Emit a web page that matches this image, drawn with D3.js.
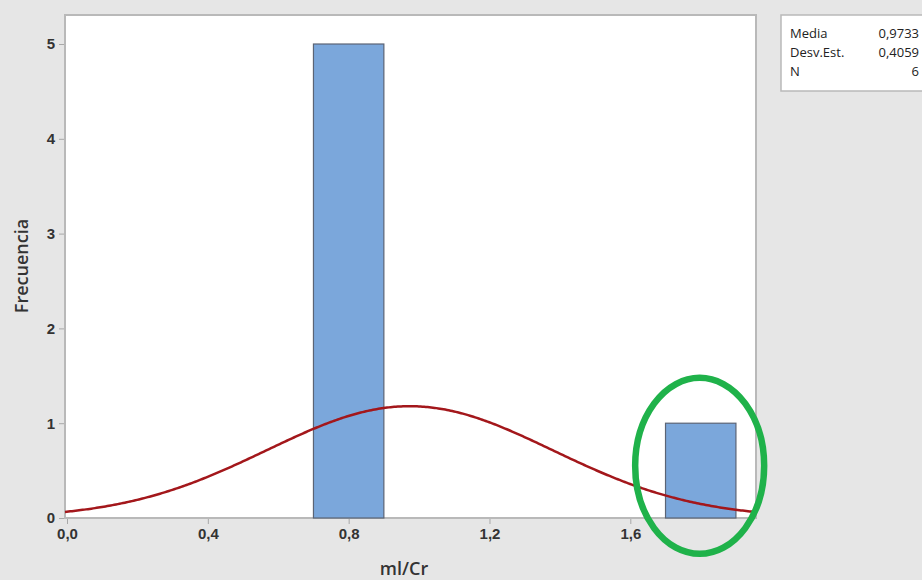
<!DOCTYPE html>
<html>
<head>
<meta charset="utf-8">
<script src="https://cdn.jsdelivr.net/npm/d3@7"></script>
<style>
  body { margin: 0; background: #e6e6e6; }
  svg { display: block; font-family: "Open Sans", "Noto Sans", sans-serif; }
</style>
</head>
<body>
<svg id="chart"></svg>
<script>
// histogram bins (lower edge, upper edge, count)
const binStart = [0.7, 1.7];
const binEnd = [0.9, 1.9];
const binCount = [5, 1];

// summary stats shown in the box
const statLabels = ["Media", "Desv.Est.", "N"];
const statValues = ["0,9733", "0,4059", "6"];
const mean = 0.9733;
const sd = 0.4059;
const n = 6;
const binWidth = 0.2;

// ticks
const xTicks = [0, 0.4, 0.8, 1.2, 1.6];
const yTicks = [0, 1, 2, 3, 4, 5];

// highlight annotation (data coords)
const highlight = { x: 1.797, y: 0.55 };

const width = 922;
const height = 580;
const plot = { left: 65, top: 15, right: 756, bottom: 518 };

const svg = d3.select("#chart")
  .attr("width", width)
  .attr("height", height);

svg.append("rect")
  .attr("width", width).attr("height", height)
  .attr("fill", "#e6e6e6");

const x = d3.scaleLinear()
  .domain([-0.0057, 1.957])
  .range([plot.left, plot.right]);

const y = d3.scaleLinear()
  .domain([0, 5.306])
  .range([plot.bottom, plot.top]);

// plot area
svg.append("rect")
  .attr("x", plot.left)
  .attr("y", plot.top)
  .attr("width", plot.right - plot.left)
  .attr("height", plot.bottom - plot.top)
  .attr("fill", "#fff")
  .attr("stroke", "#b9b9b9")
  .attr("stroke-width", 2);

// bars
svg.append("g")
  .selectAll("rect")
  .data(binCount)
  .join("rect")
  .attr("x", (d, i) => x(binStart[i]))
  .attr("y", d => y(d))
  .attr("width", (d, i) => x(binEnd[i]) - x(binStart[i]))
  .attr("height", d => y(0) - y(d))
  .attr("fill", "#7ba7db")
  .attr("stroke", "#5b6475")
  .attr("stroke-width", 1.2);

// fitted normal curve
const scale = n * binWidth / (sd * Math.sqrt(2 * Math.PI));
const curveX = d3.range(x.domain()[0], x.domain()[1], 0.005).concat([x.domain()[1]]);
svg.append("path")
  .datum(curveX)
  .attr("fill", "none")
  .attr("stroke", "#a3171b")
  .attr("stroke-width", 2.5)
  .attr("d", d3.line()
    .x(d => x(d))
    .y(d => y(scale * Math.exp(-0.5 * Math.pow((d - mean) / sd, 2)))));

// axes
const xAxis = svg.append("g")
  .attr("transform", `translate(0,${plot.bottom + 1})`)
  .call(d3.axisBottom(x).tickValues(xTicks).tickSize(5).tickPadding(4)
    .tickFormat(d => d3.format(".1f")(d).replace(".", ",")));

const yAxis = svg.append("g")
  .attr("transform", `translate(${plot.left - 1},0)`)
  .call(d3.axisLeft(y).tickValues(yTicks).tickSize(5).tickPadding(4)
    .tickFormat(d3.format("d")));

[xAxis, yAxis].forEach(a => {
  a.select(".domain").remove();
  a.selectAll(".tick line").attr("stroke", "#a8a8a8");
  a.selectAll(".tick text")
    .attr("fill", "#333")
    .style("font-size", "15px")
    .style("font-weight", "600");
});

// axis titles
svg.append("text")
  .attr("x", 404)
  .attr("y", 575)
  .attr("text-anchor", "middle")
  .attr("fill", "#333")
  .style("font-size", "18px")
  .style("font-weight", "600")
  .text("ml/Cr");

svg.append("text")
  .attr("transform", "translate(28,266) rotate(-90)")
  .attr("text-anchor", "middle")
  .attr("fill", "#333")
  .style("font-size", "18px")
  .style("font-weight", "600")
  .text("Frecuencia");

// stats box
const box = svg.append("g");
box.append("rect")
  .attr("x", 781).attr("y", 15)
  .attr("width", 160).attr("height", 76)
  .attr("fill", "#fff")
  .attr("stroke", "#b9b9b9")
  .attr("stroke-width", 1.5);

box.selectAll(".lbl")
  .data(statLabels)
  .join("text")
  .attr("class", "lbl")
  .attr("x", 790)
  .attr("y", (d, i) => 38 + i * 19)
  .attr("fill", "#222")
  .style("font-size", "13px")
  .text(d => d);

box.selectAll(".val")
  .data(statValues)
  .join("text")
  .attr("class", "val")
  .attr("x", 919)
  .attr("y", (d, i) => 38 + i * 19)
  .attr("text-anchor", "end")
  .attr("fill", "#222")
  .style("font-size", "13px")
  .text(d => d);

// green highlight ellipse
svg.append("ellipse")
  .attr("cx", x(highlight.x))
  .attr("cy", y(highlight.y))
  .attr("rx", 64.5)
  .attr("ry", 88)
  .attr("fill", "none")
  .attr("stroke", "#1fb24a")
  .attr("stroke-width", 6.5);
</script>
</body>
</html>
